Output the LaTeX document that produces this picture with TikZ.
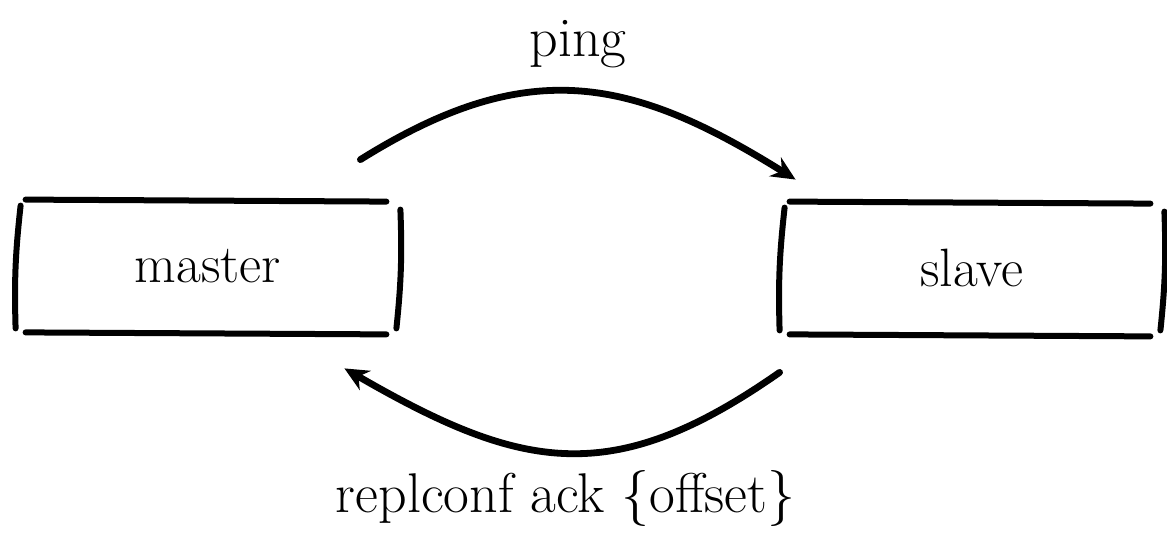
\documentclass[tikz,border=0pt]{standalone}
\usepackage{tikz}
\usetikzlibrary{arrows.meta,positioning,calc}
\newcommand{\handbox}[1]{%
  \draw[pen] ([xshift=4pt]#1.north west) -- ([xshift=-6pt,yshift=-1pt]#1.north east);
  \draw[pen] ([xshift=4pt]#1.south west) -- ([xshift=-6pt,yshift=-1pt]#1.south east);
  \draw[pen] ([xshift=1.5pt,yshift=-3pt]#1.north west) to[bend right=4] ([xshift=-1pt,yshift=2pt]#1.south west);
  \draw[pen] ([xshift=1pt,yshift=-5pt]#1.north east) to[bend left=4] ([xshift=-1pt,yshift=2pt]#1.south east);}

\begin{document}
\begin{tikzpicture}[x=0.5pt, y=-0.5pt,
  box/.style={minimum width=190pt, minimum height=66pt, inner sep=0pt, font=\fontsize{27}{32}\selectfont},
  pen/.style={line width=3pt, line cap=round},
  flow/.style={line width=3.4pt, line cap=round, -{Stealth[length=12pt,width=11pt]}},
  lbl/.style={font=\fontsize{28}{33}\selectfont}]
  \useasboundingbox (0,0) rectangle (1167,533);
  \node[box] (master) at (208,266) {master};
  \node[box] (slave) at (972,268) {slave};
  \handbox{master}
  \handbox{slave}
  \draw[flow] ([xshift=-19pt,yshift=20pt]master.north east) to[out=32, in=148, looseness=1.15]
    node[lbl, midway, above=7pt] (pinglbl) {ping} ([xshift=7pt,yshift=11pt]slave.north west);
  \draw[flow] ([xshift=-1pt,yshift=-19pt]slave.south west) to[out=-145, in=-30, looseness=1.2]
    node[lbl, midway, below=4pt] (acklbl) {replconf ack \{offset\}} ([xshift=-27pt,yshift=-18pt]master.south east);
\end{tikzpicture}
\end{document}
